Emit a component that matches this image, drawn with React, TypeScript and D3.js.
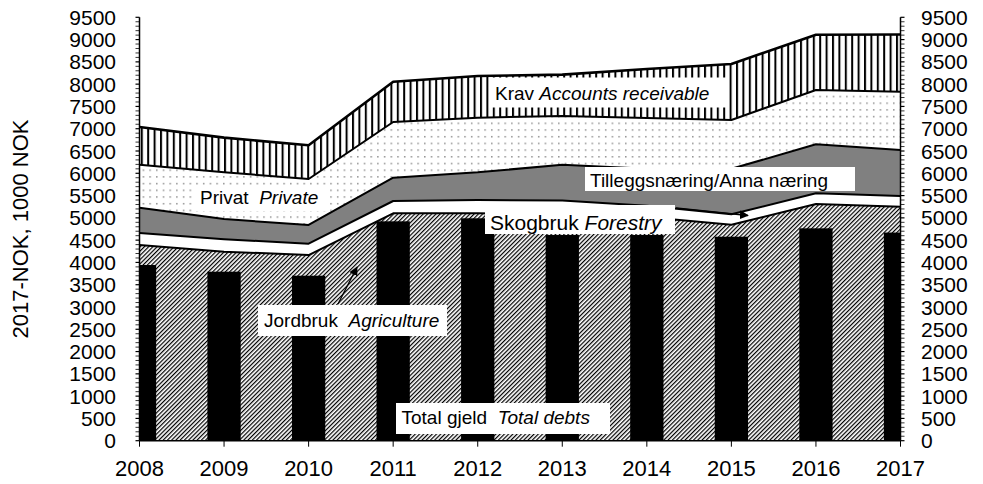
import React from "react";
import * as d3 from "d3";

const years = [2008, 2009, 2010, 2011, 2012, 2013, 2014, 2015, 2016, 2017];
const agriculture = [4390, 4241, 4166, 5102, 5102, 5080, 5020, 4845, 5311, 5250];
const forestry = [270, 279, 254, 276, 299, 310, 250, 235, 239, 240];
const otherBusiness = [568, 454, 420, 523, 621, 800, 830, 1020, 1100, 1032];
const privateDebt = [965, 1048, 1032, 1249, 1226, 1095, 1140, 1096, 1218, 1309];
const receivables = [845, 778, 756, 905, 935, 928, 1100, 1256, 1242, 1284];
const totalDebt = [3942, 3792, 3702, 4922, 4990, 4615, 4615, 4577, 4765, 4670];
const yTickLabels = d3.range(0, 9501, 500);

const keys = ["agriculture", "forestry", "otherBusiness", "privateDebt", "receivables"];
const fills = ["url(#hatch)", "#ffffff", "#808080", "url(#dots)", "url(#vstripes)"];

const W = 983;
const H = 484;
const left = 139.5;
const right = 900.5;
const bottom = 440.7;
const top = 17.3;
const FONT = "'Liberation Sans', Arial, sans-serif";

export default function App() {
  const table = years.map((yr, i) => ({
    year: yr,
    agriculture: agriculture[i],
    forestry: forestry[i],
    otherBusiness: otherBusiness[i],
    privateDebt: privateDebt[i],
    receivables: receivables[i],
  }));
  const series = d3.stack<any>().keys(keys)(table);
  const x = d3.scalePoint<number>().domain(years).range([left, right]);
  const y = d3.scaleLinear().domain([0, 9500]).range([bottom, top]);
  const area = d3
    .area<any>()
    .x((d) => x(d.data.year) as number)
    .y0((d) => y(d[0]))
    .y1((d) => y(d[1]));
  const line = d3
    .line<any>()
    .x((d) => x(d.data.year) as number)
    .y((d) => y(d[1]));
  const barW = 33.3;
  const minor = d3.range(0, 9501, 100);

  const box = (bx: number, by: number, bw: number, bh: number) => (
    <rect x={bx} y={by} width={bw} height={bh} fill="#fff" />
  );

  return (
    <svg
      width={W}
      height={H}
      style={{ position: "absolute", left: 0, top: 0, background: "#fff" }}
      fontFamily={FONT}
    >
      <defs>
        <pattern id="hatch" patternUnits="userSpaceOnUse" width={3} height={3} patternTransform="rotate(45)">
          <rect width={3} height={3} fill="#fff" />
          <line x1={0.6} y1={0} x2={0.6} y2={3} stroke="#000" strokeWidth={1.25} />
        </pattern>
        <pattern id="vstripes" patternUnits="userSpaceOnUse" width={6.4} height={10}>
          <rect width={6.4} height={10} fill="#fff" />
          <rect x={0} y={0} width={2} height={10} fill="#000" />
        </pattern>
        <pattern id="dots" patternUnits="userSpaceOnUse" width={6.7} height={6.7}>
          <rect width={6.7} height={6.7} fill="#fff" />
          <rect x={2} y={2} width={1.4} height={1.4} fill="#808080" />
        </pattern>
        <clipPath id="plot">
          <rect x={left} y={0} width={right - left} height={bottom} />
        </clipPath>
        <marker id="arrow" viewBox="0 0 10 10" refX={9} refY={5} markerWidth={9} markerHeight={9} orient="auto" markerUnits="userSpaceOnUse">
          <path d="M0,0 L10,5 L0,10 z" fill="#000" />
        </marker>
      </defs>

      <g clipPath="url(#plot)">
        {series.map((s, i) => (
          <path key={keys[i]} d={area(s) as string} fill={fills[i]} />
        ))}
        {series.map((s, i) => (
          <path
            key={"l" + keys[i]}
            d={line(s) as string}
            fill="none"
            stroke="#000"
            strokeWidth={i === 4 ? 2.6 : 2}
            strokeLinejoin="round"
          />
        ))}
        {years.map((yr, i) => (
          <rect
            key={"b" + yr}
            x={(x(yr) as number) - barW / 2}
            y={y(totalDebt[i])}
            width={barW}
            height={y(0) - y(totalDebt[i])}
            fill="#000"
          />
        ))}
      </g>

      {/* labels */}
      {box(489, 77.5, 238, 30)}
      <text x={495} y={99.5} fontSize={19}>
        Krav <tspan fontStyle="italic">Accounts receivable</tspan>
      </text>

      {box(195, 186, 131, 25)}
      <text x={200} y={204} fontSize={19} xmlSpace="preserve">
        Privat  <tspan fontStyle="italic">Private</tspan>
      </text>

      {box(585, 167, 270, 24)}
      <text x={590} y={187} fontSize={19}>
        Tilleggsnæring/Anna næring
      </text>

      {box(485, 205, 190, 29)}
      <text x={490} y={230} fontSize={21}>
        Skogbruk <tspan fontStyle="italic">Forestry</tspan>
      </text>
      <line x1={676} y1={208} x2={748} y2={215.5} stroke="#000" strokeWidth={1.3} markerEnd="url(#arrow)" />

      {box(258, 305, 189, 31)}
      <text x={264} y={327} fontSize={19} xmlSpace="preserve">
        Jordbruk  <tspan fontStyle="italic">Agriculture</tspan>
      </text>
      <line x1={338} y1={304} x2={357} y2={267} stroke="#000" strokeWidth={1.3} markerEnd="url(#arrow)" />

      {box(396, 403, 214, 31)}
      <text x={401.5} y={424} fontSize={19} xmlSpace="preserve">
        Total gjeld  <tspan fontStyle="italic">Total debts</tspan>
      </text>

      {/* axes */}
      <line x1={left} y1={top} x2={left} y2={bottom} stroke="#000" strokeWidth={1.5} />
      <line x1={right} y1={top} x2={right} y2={bottom} stroke="#000" strokeWidth={1.5} />
      <line x1={left} y1={bottom} x2={right} y2={bottom} stroke="#000" strokeWidth={1.5} />
      {minor.map((v) => (
        <g key={"m" + v}>
          <line x1={left - 4} x2={left} y1={y(v)} y2={y(v)} stroke="#000" strokeWidth={v % 500 === 0 ? 1.2 : 0.8} />
          <line x1={right} x2={right + 4} y1={y(v)} y2={y(v)} stroke="#000" strokeWidth={v % 500 === 0 ? 1.2 : 0.8} />
        </g>
      ))}
      {yTickLabels.map((v) => (
        <g key={"t" + v} fontSize={21}>
          <text x={116} y={y(v)} dy="0.36em" textAnchor="end">
            {v}
          </text>
          <text x={921} y={y(v)} dy="0.36em" textAnchor="start">
            {v}
          </text>
        </g>
      ))}
      {years.map((yr) => (
        <g key={"x" + yr}>
          <line x1={x(yr)} x2={x(yr)} y1={bottom} y2={bottom + 6} stroke="#000" strokeWidth={1} />
          <text x={x(yr)} y={476} fontSize={22} textAnchor="middle">
            {yr}
          </text>
        </g>
      ))}
      <text transform="translate(28.3,229) rotate(-90)" fontSize={22} textAnchor="middle">
        2017-NOK, 1000 NOK
      </text>
    </svg>
  );
}
